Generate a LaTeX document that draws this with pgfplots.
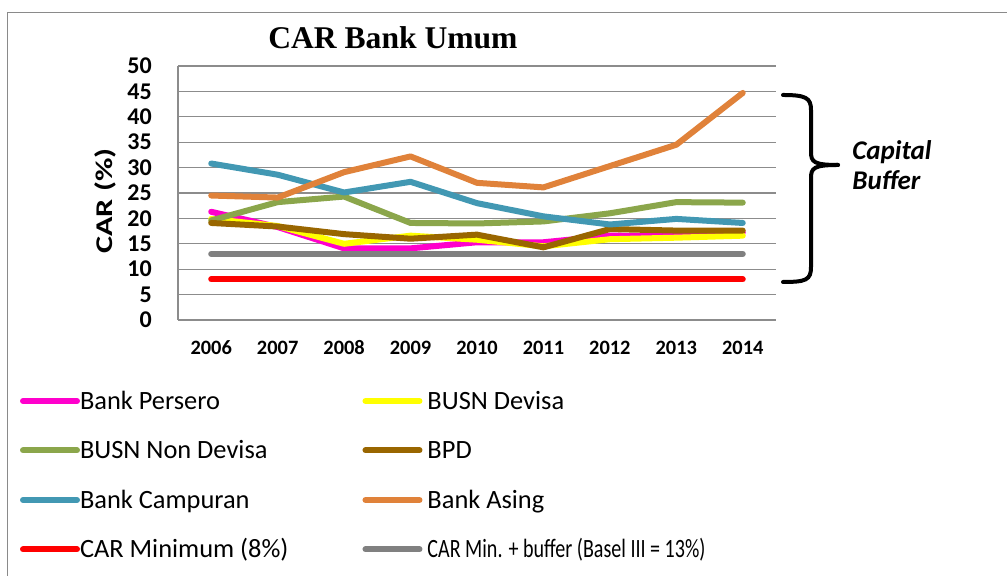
\documentclass[border=0pt]{standalone}
\usepackage{fontspec}
\setmainfont{Carlito}
\newfontfamily\titlefont{Liberation Serif}
\usepackage{graphicx}
\usepackage{pgfplots}
\pgfplotsset{compat=1.18}
\definecolor{cPersero}{HTML}{FF00CC}
\definecolor{cDevisa}{HTML}{FFFF00}
\definecolor{cNonDev}{HTML}{8BA64B}
\definecolor{cBPD}{HTML}{996600}
\definecolor{cCamp}{HTML}{4298B3}
\definecolor{cAsing}{HTML}{E0823A}
\definecolor{cMin}{HTML}{FF0000}
\definecolor{cBuf}{HTML}{808080}
\definecolor{gridgray}{HTML}{8C8C8C}
\definecolor{frame}{HTML}{8A8A8A}
\begin{document}
\begin{tikzpicture}
\path[use as bounding box] (0,0) rectangle (503.5pt,288pt);
\draw[color=frame, line width=0.65pt] (3.75pt,0) -- (3.75pt,281.75pt) -- (503.5pt,281.75pt);
\begin{axis}[
  at={(89pt,128pt)}, anchor=south west, scale only axis,
  width=299pt, height=127pt,
  xmin=-0.5, xmax=8.5, ymin=0, ymax=50,
  xtick={0,...,8},
  xticklabels={2006,2007,2008,2009,2010,2011,2012,2013,2014},
  ytick={0,5,...,50},
  ymajorgrids,
  major grid style={gridgray, line width=0.65pt},
  major tick length=0pt,
  axis lines*=left,
  axis line style={-, gridgray, line width=0.65pt},
  /pgf/number format/assume math mode=true,
  xticklabel style={font=\bfseries\fontsize{10.2}{12}\selectfont, text height=6.6pt, text depth=0pt, anchor=north, yshift=-7.2pt},
  yticklabel style={font=\bfseries\fontsize{12}{14}\selectfont, xshift=-9.6pt},
  ylabel={\scalebox{1.34}[1]{CAR (\%)}},
  every axis y label/.style={at={(axis description cs:-0.1221,0.468)}, rotate=90, anchor=center, font=\bfseries\fontsize{12}{14}\selectfont},
  title={CAR Bank Umum},
  title style={at={(axis description cs:0.3595,1.063)}, anchor=center, font=\titlefont\bfseries\fontsize{15.8}{18}\selectfont},
  clip=false,
  every axis plot/.append style={line width=3pt, line join=round, line cap=round, no markers},
  legend columns=2,
  legend image code/.code={\draw[#1, line width=3pt, line cap=round] (1.5pt,4.2pt) -- (28.5pt,4.2pt);},
  legend style={at={(axis description cs:-0.2642,-0.281)}, anchor=north west, draw=none, fill=none,
    inner sep=0pt, outer sep=0pt, row sep=12.75pt,
    nodes={inner sep=0pt, outer sep=0pt, text height=9pt, text depth=3pt, font=\fontsize{13.2}{15}\selectfont, anchor=base west},
    /tikz/every odd column/.append style={column sep=0pt},
    /tikz/every even column/.append style={column sep=37pt}},
  legend cell align=left,
]
\addplot[color=cPersero] coordinates {(0,21.3) (1,18.3) (2,14.1) (3,14.1) (4,15.3) (5,15.3) (6,16.6) (7,16.5) (8,17.2)};
\addlegendentry{Bank Persero}
\addplot[color=cDevisa] coordinates {(0,19.9) (1,18.5) (2,15.0) (3,16.6) (4,15.8) (5,14.5) (6,15.9) (7,16.2) (8,16.6)};
\addlegendentry{\hspace{2.5pt}BUSN Devisa}
\addplot[color=cNonDev] coordinates {(0,19.6) (1,23.2) (2,24.3) (3,19.1) (4,19.0) (5,19.4) (6,21.0) (7,23.2) (8,23.1)};
\addlegendentry{BUSN Non Devisa}
\addplot[color=cBPD] coordinates {(0,19.1) (1,18.4) (2,16.9) (3,16.0) (4,16.8) (5,14.3) (6,17.9) (7,17.6) (8,17.6)};
\addlegendentry{\hspace{2.5pt}BPD}
\addplot[color=cCamp] coordinates {(0,30.8) (1,28.6) (2,25.1) (3,27.2) (4,23.0) (5,20.4) (6,18.8) (7,19.9) (8,19.1)};
\addlegendentry{Bank Campuran}
\addplot[color=cAsing] coordinates {(0,24.5) (1,24.1) (2,29.1) (3,32.2) (4,27.0) (5,26.1) (6,30.3) (7,34.5) (8,44.7)};
\addlegendentry{\hspace{2.5pt}Bank Asing}
\addplot[color=cMin] coordinates {(0,8) (1,8) (2,8) (3,8) (4,8) (5,8) (6,8) (7,8) (8,8)};
\addlegendentry{CAR Minimum (8\%)}
\addplot[color=cBuf] coordinates {(0,13) (1,13) (2,13) (3,13) (4,13) (5,13) (6,13) (7,13) (8,13)};
\addlegendentry{\hspace{2.5pt}\scalebox{0.76}[1]{CAR Min. + buffer (Basel III = 13\%)}}
\end{axis}
\draw[black, line width=2pt, line cap=round]
  (391.5pt,240.5pt) .. controls (403pt,240.5pt) and (405.5pt,239pt) .. (405.5pt,233pt)
  -- (405.5pt,212pt) .. controls (405.5pt,207pt) and (407pt,205.5pt) .. (419pt,205.5pt);
\draw[black, line width=2pt, line cap=round]
  (419pt,205.5pt) .. controls (407pt,205.5pt) and (405.5pt,204pt) .. (405.5pt,199pt)
  -- (405.5pt,154.5pt) .. controls (405.5pt,148pt) and (403pt,147pt) .. (391.5pt,147pt);
\node[anchor=base west, inner sep=0pt, font=\bfseries\itshape\fontsize{13.5}{16}\selectfont] at (426pt,208pt) {Capital};
\node[anchor=base west, inner sep=0pt, font=\bfseries\itshape\fontsize{13.5}{16}\selectfont] at (426pt,193pt) {Buffer};
\end{tikzpicture}
\end{document}
